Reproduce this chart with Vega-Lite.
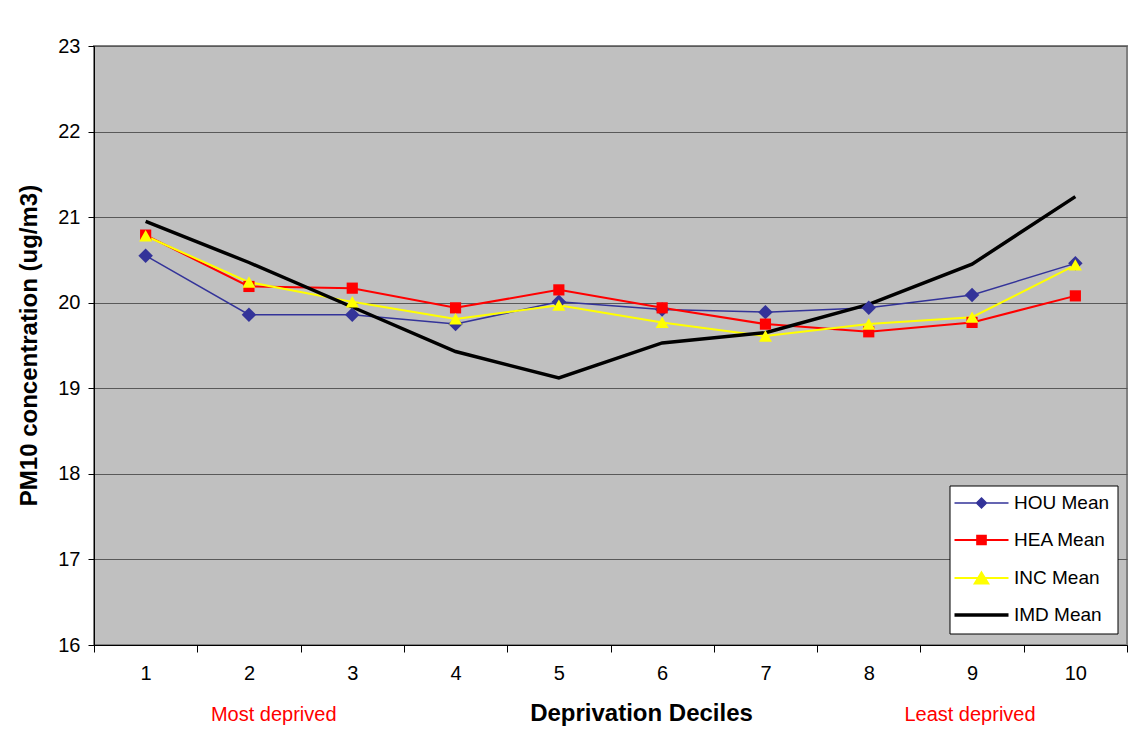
{
  "$schema": "https://vega.github.io/schema/vega-lite/v6.json",
  "width": 1033,
  "height": 599,
  "autosize": "none",
  "padding": {"left": 94, "top": 46, "right": 15, "bottom": 86},
  "background": "white",
  "view": {"fill": "#C0C0C0", "stroke": "#808080", "strokeWidth": 2},
  "config": {
    "font": "Liberation Sans",
    "view": {"fill": "#C0C0C0", "stroke": "#808080", "strokeWidth": 2}
  },
  "datasets": {
    "pm": [
      {"series": "HOU Mean", "decile": 1, "value": 20.55},
      {"series": "HOU Mean", "decile": 2, "value": 19.86},
      {"series": "HOU Mean", "decile": 3, "value": 19.86},
      {"series": "HOU Mean", "decile": 4, "value": 19.75},
      {"series": "HOU Mean", "decile": 5, "value": 20.01},
      {"series": "HOU Mean", "decile": 6, "value": 19.92},
      {"series": "HOU Mean", "decile": 7, "value": 19.89},
      {"series": "HOU Mean", "decile": 8, "value": 19.94},
      {"series": "HOU Mean", "decile": 9, "value": 20.09},
      {"series": "HOU Mean", "decile": 10, "value": 20.46},
      {"series": "HEA Mean", "decile": 1, "value": 20.79},
      {"series": "HEA Mean", "decile": 2, "value": 20.19},
      {"series": "HEA Mean", "decile": 3, "value": 20.17},
      {"series": "HEA Mean", "decile": 4, "value": 19.94},
      {"series": "HEA Mean", "decile": 5, "value": 20.15},
      {"series": "HEA Mean", "decile": 6, "value": 19.94},
      {"series": "HEA Mean", "decile": 7, "value": 19.75},
      {"series": "HEA Mean", "decile": 8, "value": 19.66},
      {"series": "HEA Mean", "decile": 9, "value": 19.77},
      {"series": "HEA Mean", "decile": 10, "value": 20.08},
      {"series": "INC Mean", "decile": 1, "value": 20.78},
      {"series": "INC Mean", "decile": 2, "value": 20.24},
      {"series": "INC Mean", "decile": 3, "value": 20.01},
      {"series": "INC Mean", "decile": 4, "value": 19.81},
      {"series": "INC Mean", "decile": 5, "value": 19.97},
      {"series": "INC Mean", "decile": 6, "value": 19.77},
      {"series": "INC Mean", "decile": 7, "value": 19.61},
      {"series": "INC Mean", "decile": 8, "value": 19.75},
      {"series": "INC Mean", "decile": 9, "value": 19.83},
      {"series": "INC Mean", "decile": 10, "value": 20.44},
      {"series": "IMD Mean", "decile": 1, "value": 20.95},
      {"series": "IMD Mean", "decile": 2, "value": 20.47},
      {"series": "IMD Mean", "decile": 3, "value": 19.95},
      {"series": "IMD Mean", "decile": 4, "value": 19.43},
      {"series": "IMD Mean", "decile": 5, "value": 19.12},
      {"series": "IMD Mean", "decile": 6, "value": 19.53},
      {"series": "IMD Mean", "decile": 7, "value": 19.65},
      {"series": "IMD Mean", "decile": 8, "value": 19.98},
      {"series": "IMD Mean", "decile": 9, "value": 20.45},
      {"series": "IMD Mean", "decile": 10, "value": 21.24}
    ],
    "notes": [
      {"label": "Most deprived", "decile": 2.24, "value": 15.115},
      {"label": "Least deprived", "decile": 8.98, "value": 15.115}
    ]
  },
  "encoding": {
    "y": {
      "field": "value",
      "type": "quantitative",
      "scale": {"domain": [16, 23], "nice": false, "zero": false},
      "axis": {
        "values": [16, 17, 18, 19, 20, 21, 22, 23],
        "grid": true,
        "gridColor": "#595959",
        "gridWidth": 1,
        "domain": true,
        "domainColor": "black",
        "domainWidth": 1,
        "ticks": true,
        "tickSize": 6,
        "tickColor": "black",
        "labelFontSize": 20,
        "labelColor": "black",
        "labelPadding": 8,
        "labelFont": "Liberation Sans",
        "title": "PM10 concentration (ug/m3)",
        "titleFont": "Liberation Sans",
        "titleFontSize": 24,
        "titleFontWeight": "bold",
        "titleColor": "black",
        "titleAngle": 270,
        "titleX": -65,
        "titleY": 299,
        "titleAlign": "center",
        "titleBaseline": "middle"
      }
    }
  },
  "layer": [
    {
      "data": {"name": "pm"},
      "transform": [{"filter": "datum.series === 'HOU Mean'"}],
      "mark": {"type": "line", "color": "#333399", "strokeWidth": 1.5},
      "encoding": {
        "x": {
          "field": "decile",
          "type": "quantitative",
          "scale": {"domain": [0.5, 10.5], "nice": false, "zero": false},
          "axis": {
            "orient": "bottom",
            "values": [1, 2, 3, 4, 5, 6, 7, 8, 9, 10],
            "ticks": false,
            "tickSize": 0,
            "grid": false,
            "domain": true,
            "domainColor": "black",
            "domainWidth": 1,
            "labelFontSize": 20,
            "labelColor": "black",
            "labelPadding": 18,
            "labelFont": "Liberation Sans",
            "title": "Deprivation Deciles",
            "titleFont": "Liberation Sans",
            "titleFontSize": 24,
            "titleFontWeight": "bold",
            "titleColor": "black",
            "titleX": 547,
            "titleY": 75,
            "titleAlign": "center",
            "titleBaseline": "alphabetic"
          }
        },
        "order": {"field": "decile", "type": "quantitative"}
      }
    },
    {
      "data": {"name": "pm"},
      "transform": [{"filter": "datum.series === 'HEA Mean'"}],
      "mark": {"type": "line", "color": "#FF0000", "strokeWidth": 2},
      "encoding": {
        "x": {"field": "decile", "type": "quantitative", "axis": null},
        "order": {"field": "decile", "type": "quantitative"}
      }
    },
    {
      "data": {"name": "pm"},
      "transform": [{"filter": "datum.series === 'INC Mean'"}],
      "mark": {"type": "line", "color": "#FFFF00", "strokeWidth": 2},
      "encoding": {
        "x": {"field": "decile", "type": "quantitative", "axis": null},
        "order": {"field": "decile", "type": "quantitative"}
      }
    },
    {
      "data": {"name": "pm"},
      "transform": [{"filter": "datum.series === 'IMD Mean'"}],
      "mark": {"type": "line", "color": "#000000", "strokeWidth": 3.5},
      "encoding": {
        "x": {"field": "decile", "type": "quantitative", "axis": null},
        "order": {"field": "decile", "type": "quantitative"}
      }
    },
    {
      "data": {"name": "pm"},
      "transform": [{"filter": "datum.series === 'HOU Mean'"}],
      "mark": {"type": "point", "shape": "diamond", "size": 210, "filled": true, "color": "#333399", "opacity": 1, "strokeWidth": 0},
      "encoding": {
        "x": {
          "field": "decile",
          "type": "quantitative",
          "axis": {
            "orient": "bottom",
            "values": [0.5, 1.5, 2.5, 3.5, 4.5, 5.5, 6.5, 7.5, 8.5, 9.5, 10.5],
            "labels": false,
            "ticks": true,
            "tickSize": 7,
            "tickColor": "black",
            "tickWidth": 1,
            "domain": false,
            "grid": false,
            "title": null
          }
        }
      }
    },
    {
      "data": {"name": "pm"},
      "transform": [{"filter": "datum.series === 'HEA Mean'"}],
      "mark": {"type": "point", "shape": "square", "size": 125, "filled": true, "color": "#FF0000", "opacity": 1, "strokeWidth": 0},
      "encoding": {
        "x": {"field": "decile", "type": "quantitative", "axis": null}
      }
    },
    {
      "data": {"name": "pm"},
      "transform": [{"filter": "datum.series === 'INC Mean'"}],
      "mark": {"type": "point", "shape": "M0,-0.9L1,0.85L-1,0.85Z", "size": 170, "filled": true, "color": "#FFFF00", "opacity": 1, "strokeWidth": 0},
      "encoding": {
        "x": {"field": "decile", "type": "quantitative", "axis": null}
      }
    },
    {
      "data": {"name": "notes"},
      "mark": {
        "type": "text",
        "fontSize": 20,
        "font": "Liberation Sans",
        "color": "#FF0000",
        "align": "center",
        "baseline": "alphabetic"
      },
      "encoding": {
        "x": {"field": "decile", "type": "quantitative", "axis": null},
        "text": {"field": "label"}
      }
    },
    {
      "data": {"name": "pm"},
      "transform": [{"filter": "false"}],
      "mark": {
        "type": "point",
        "filled": true,
        "opacity": 1,
        "color": {"expr": "datum.value === 'HOU Mean' ? '#333399' : datum.value === 'HEA Mean' ? '#FF0000' : datum.value === 'INC Mean' ? '#FFFF00' : '#000000'"},
        "stroke": {"expr": "datum.value === 'HOU Mean' ? '#333399' : datum.value === 'HEA Mean' ? '#FF0000' : datum.value === 'INC Mean' ? '#FFFF00' : '#000000'"},
        "strokeWidth": {"expr": "datum.value === 'IMD Mean' ? 3.5 : datum.value === 'HOU Mean' ? 1.5 : 2"}
      },
      "encoding": {
        "shape": {
          "field": "series",
          "type": "nominal",
          "scale": {
            "domain": ["HOU Mean", "HEA Mean", "INC Mean", "IMD Mean"],
            "range": [
              "M-3,0L3,0M0,-0.55L0.55,0L0,0.55L-0.55,0Z",
              "M-3,0L3,0M-0.48,-0.48L0.48,-0.48L0.48,0.48L-0.48,0.48Z",
              "M-3,0L3,0M0,-0.62L0.75,0.62L-0.75,0.62Z",
              "M-3,0L3,0"
            ]
          },
          "legend": {
            "orient": "none",
            "legendX": 855.5,
            "legendY": 439.5,
            "title": null,
            "padding": 8,
            "fillColor": "white",
            "strokeColor": "black",
            "symbolSize": 324,
            "symbolStrokeWidth": {"expr": "datum.value === 'IMD Mean' ? 3.5 : datum.value === 'HOU Mean' ? 1.5 : 2"},
            "symbolOffset": 14.5,
            "labelOffset": 23,
            "labelFontSize": 19,
            "labelFont": "Liberation Sans",
            "labelColor": "black",
            "rowPadding": 17
          }
        }
      }
    }
  ],
  "resolve": {
    "axis": {"x": "independent"}
  }
}
